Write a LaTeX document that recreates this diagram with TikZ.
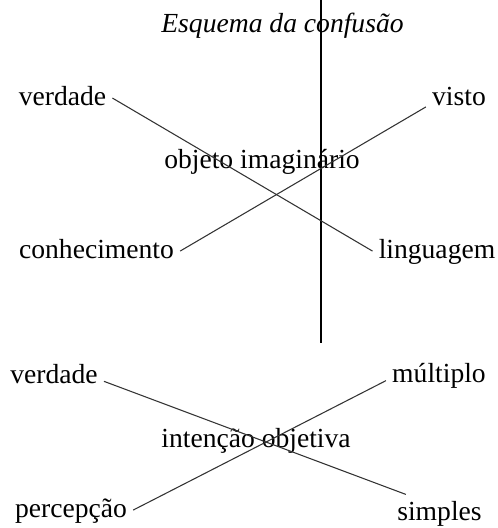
\documentclass[tikz,border=0pt]{standalone}
\usepackage{fontspec}
\setmainfont{Liberation Serif}
\usetikzlibrary{positioning}

\begin{document}
\begin{tikzpicture}[x=0.75pt,y=-0.75pt]
	\useasboundingbox (0,0) rectangle (497,528);
	\begin{scope}[every node/.style={anchor=base,inner sep=4.5pt,text height=14.5pt,text depth=4.1pt,font=\fontsize{20.7}{25}\selectfont}]
		\node (titulo) at (282.5,33) {\itshape Esquema da confusão};
		\node (verdade) at (62.5,105) {verdade};
		\node (visto) at (459,105) {visto};
		\node (objeto) at (262,168) {objeto imaginário};
		\node (conhecimento) at (96.5,258) {conhecimento};
		\node (linguagem) at (437,258) {linguagem};
		\node (verdadedois) at (54,383) {verdade};
		\node (multiplo) at (439,382) {múltiplo};
		\node (intencao) at (256,447) {intenção objetiva};
		\node (percepcao) at (71,517) {percepção};
		\node (simples) at (439.5,520) {simples};
	\end{scope}

	\coordinate (topo) at (321,0);
	\coordinate (fundo) at (321,343);
	\draw[line width=1.5pt] (topo) -- (fundo);

	\begin{scope}[every edge/.style={draw,black!80,line width=0.8pt}]
		\path (verdade.east) edge (linguagem.west);
		\path (visto.195) edge (conhecimento.east);
		\path (verdadedois.-6) edge (simples.151);
		\path (multiplo.186) edge (percepcao.east);
	\end{scope}
\end{tikzpicture}
\end{document}
